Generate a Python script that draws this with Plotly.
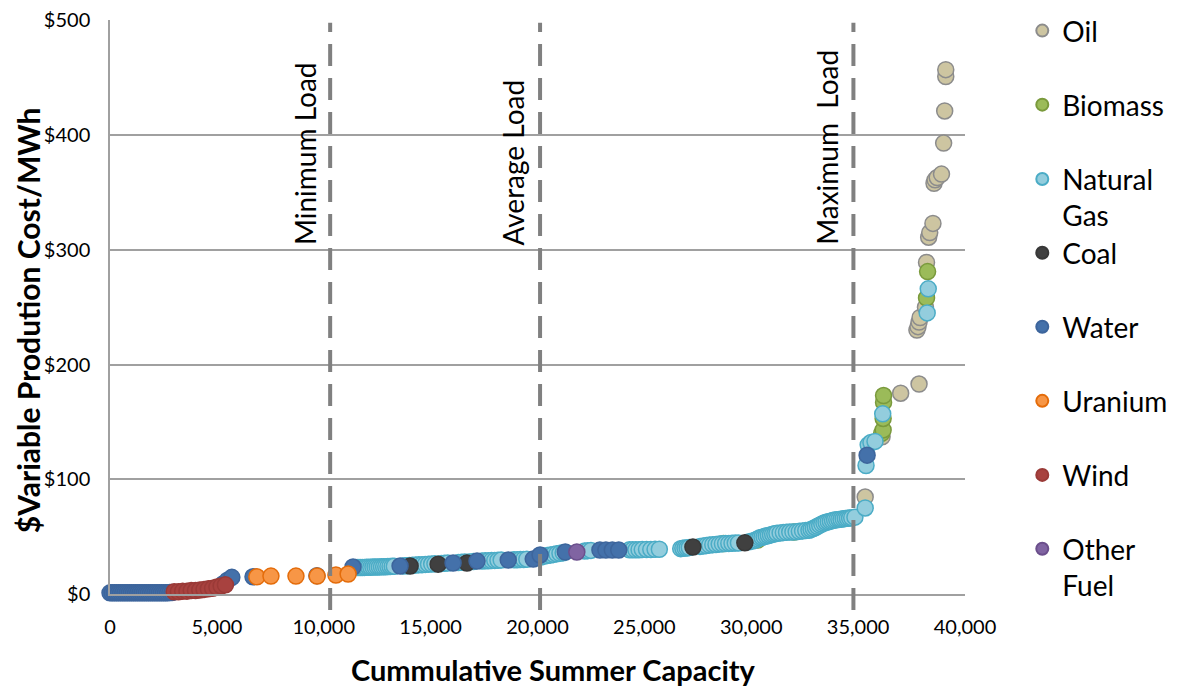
import plotly.graph_objects as go

# fuel data (MW cumulative, $/MWh)
oil_x = [35330, 36120, 36990, 37850, 37750, 37800, 37850, 37900, 38150, 38200, 38300, 38350,
         38500, 38550, 38600, 38700, 38900, 39000, 39050, 39100, 39100]
oil_y = [84.5, 137, 175, 183, 230, 233, 237, 241, 250, 289, 311, 315, 323, 358, 361, 363, 366,
         393, 421, 451, 457]

biomass_x = [28700, 30300, 32000, 36100, 36170, 36170, 36190, 36190, 38200, 38250]
biomass_y = [44, 47, 54, 140, 143, 153, 167, 173, 258, 281]

gas_x = [11500, 11600, 11700, 11800, 11900, 12000, 12100, 12200, 12300, 12400, 12500, 12600,
         12700, 12800, 12900, 13000, 13100, 13200, 13300, 13700, 13800, 13900, 14000, 14150,
         14300, 14450, 14600, 14750, 14900, 15050, 15200, 15500, 15650, 15800, 16300, 16450,
         16600, 16800, 17000, 17400, 17550, 17700, 17850, 18000, 18150, 18300, 18900, 19050,
         19200, 19350, 19500, 20000, 20150, 20300, 20450, 20600, 20750, 20900, 21050, 21200,
         22200, 22350, 22500, 24300, 24450, 24600, 24750, 24900, 25100, 25300, 25500, 25700,
         26700, 26800, 26900, 27000, 27100, 27600, 27750, 27900, 28050, 28200, 28350, 28500,
         28650, 28800, 28950, 29100, 29250, 29400, 29900, 30050, 30200, 30300, 30400, 30500,
         30600, 30700, 30800, 30900, 31000, 31100, 31200, 31350, 31500, 31650, 31800, 31950,
         32100, 32250, 32400, 32550, 32700, 32800, 32900, 33000, 33100, 33200, 33300, 33400,
         33500, 33600, 33700, 33800, 33900, 34000, 34100, 34200, 34300, 34400, 34500, 34600,
         34700, 34850, 35330, 35370, 35470, 35600, 35790, 36150, 38230, 38280]
gas_y = [23, 23, 23, 23.1, 23.2, 23.3, 23.4, 23.4, 23.5, 23.5, 23.6, 23.6,
         23.7, 23.7, 23.8, 23.9, 24, 24.1, 24.2, 24.5, 24.6, 24.7, 24.8, 25,
         25.2, 25.4, 25.6, 25.8, 26, 26.1, 26.3, 26.6, 26.8, 27, 27.5, 27.6,
         27.8, 28, 28.3, 28.8, 28.9, 29, 29.1, 29.3, 29.4, 29.6, 29.8, 29.9,
         30, 30.1, 30.3, 31.5, 32.2, 33, 33.5, 34, 34.5, 35, 35.5, 36,
         37.5, 37.8, 38, 38.5, 38.5, 38.5, 38.6, 38.7, 38.8, 38.8, 38.9, 39,
         39.5, 39.8, 40, 40.2, 40.5, 41.5, 41.8, 42.2, 42.6, 43, 43.2, 43.5,
         43.8, 44, 44.1, 44.2, 44.4, 44.5, 45.5, 46.2, 47, 48, 49, 49.5,
         50, 50.5, 51, 51.5, 52, 52.5, 53, 53.2, 53.5, 53.8, 54, 54.1,
         54.2, 54.6, 55, 55.3, 55.6, 56.3, 57, 58, 59, 60, 61, 61.8,
         62.5, 63, 63.5, 64, 64.5, 64.8, 65, 65.2, 65.5, 65.8, 66, 66.2,
         66.5, 67, 75, 112, 130, 132, 133, 157, 245, 266]

coal_x = [14040, 15350, 16700, 27270, 29700]
coal_y = [24.4, 26, 27, 41, 44.6]

water_x = [0, 100, 200, 300, 400, 500, 600, 700, 800, 900, 1000, 1100, 1200, 1300, 1400, 1500,
           1600, 1700, 1800, 1900, 2000, 2100, 2200, 2300, 2400, 2500, 2600, 2700, 2800, 2900,
           5300, 5500, 5700, 6690, 9680, 11370, 13570, 16050, 17170, 18630, 19800, 20120,
           21300, 22920, 23200, 23500, 23800, 35420]
water_y = [1, 1, 1, 1, 1, 1, 1, 1, 1, 1, 1, 1, 1, 1, 1, 1,
           1, 1, 1, 1, 1, 1, 1, 1, 1, 1, 1, 1, 1.2, 1.2,
           9, 12, 14.5, 15, 16, 23.5, 24.4, 27, 28.7, 29.6, 30.4, 34,
           36.6, 38.3, 38.3, 38.3, 38.3, 121]

uranium_x = [6870, 7530, 8700, 9690, 10570, 11140]
uranium_y = [15, 15.6, 15.6, 15.6, 16.5, 17.4]

wind_x = [3000, 3200, 3400, 3600, 3800, 4000, 4200, 4400, 4600, 4800, 5000, 5200, 5400]
wind_y = [2, 2, 2.5, 2.5, 3, 3, 3.5, 4, 4.5, 5, 6, 7, 8]

other_x = [21840]
other_y = [36.6]

load_x = [10300, 20120, 34780]
load_names = ["Minimum Load", "Average Load", "Maximum  Load"]
label_x = [9150, 18850, 33550]
label_y = [384, 376, 389]

y_ticks = [0, 100, 200, 300, 400, 500]
y_labels = ["$0", "$100", "$200", "$300", "$400", "$500"]
x_ticks = [0, 5000, 10000, 15000, 20000, 25000, 30000, 35000, 40000]

FONT = "Lato"
series = [
    ("Oil", oil_x, oil_y, "#CDC5A1", "#8C8C8C", 0.981, "middle"),
    ("Biomass", biomass_x, biomass_y, "#9BBB59", "#7A9A3C", 0.852, "middle"),
    ("Natural<br>Gas", gas_x, gas_y, "#93CDDD", "#4BACC6", 0.691, "top"),
    ("Coal", coal_x, coal_y, "#404040", "#383838", 0.594, "middle"),
    ("Water", water_x, water_y, "#4471AA", "#3D659C", 0.465, "middle"),
    ("Uranium", uranium_x, uranium_y, "#F79646", "#E46C0A", 0.336, "middle"),
    ("Wind", wind_x, wind_y, "#A8423F", "#9A3A37", 0.207, "middle"),
    ("Other<br>Fuel", other_x, other_y, "#8064A2", "#6B4F8C", 0.047, "top"),
]

fig = go.Figure()
layout_legends = {}
for i, (name, xs, ys, fill, edge, ly, va) in enumerate(series):
    key = "legend" if i == 0 else "legend%d" % (i + 1)
    fig.add_trace(go.Scatter(x=xs, y=ys, mode="markers", name=name, legend=key,
                             cliponaxis=False, showlegend=True,
                             marker=dict(size=16, color=fill, line=dict(color=edge, width=1.5))))
    layout_legends[key] = dict(x=1.067, y=ly, xanchor="left", yanchor="middle", valign=va,
                               bgcolor="rgba(0,0,0,0)", itemsizing="constant", visible=True,
                               font=dict(family=FONT, size=28, color="#000000"))

for lx in load_x:
    fig.add_shape(type="line", xref="x", yref="paper", x0=lx, x1=lx, y0=-0.028, y1=0.995,
                  line=dict(color="#808080", width=4, dash="22px,12px"))

for name, ax, ay in zip(load_names, label_x, label_y):
    fig.add_annotation(x=ax, y=ay, text=name, showarrow=False, textangle=-90,
                       font=dict(family=FONT, size=28, color="#000000"))

# axis titles sit slightly off-centre in the original, so place them as annotations
fig.add_annotation(xref="paper", yref="paper", x=0.519, y=-0.132, yanchor="middle",
                   text="<b>Cummulative Summer Capacity</b>", showarrow=False,
                   font=dict(family=FONT, size=29, color="#000000"))
fig.add_annotation(xref="paper", yref="paper", x=-0.0959, y=0.477, xanchor="center",
                   text="<b>$Variable Prodution Cost/MWh</b>", showarrow=False, textangle=-90,
                   borderpad=0, font=dict(family=FONT, size=30, color="#000000"))

# page body adds an 8px offset, so the figure is 8px smaller than the window
fig.update_layout(
    width=1171, height=680, showlegend=True,
    margin=dict(l=102, r=214, t=12, b=94, autoexpand=False),
    paper_bgcolor="white", plot_bgcolor="white",
    font=dict(family=FONT, color="#000000"),
    **layout_legends,
)
fig.update_xaxes(range=[0, 40000], tickvals=x_ticks, tickformat=",", showgrid=False,
                 zeroline=False, showline=True, linecolor="#A0A0A0", automargin=False,
                 linewidth=1.5, ticks="", ticklabelstandoff=14, ticklabeloverflow="allow",
                 tickfont=dict(family=FONT, size=20, color="#000000"))
fig.update_yaxes(range=[0, 500.3], tickvals=y_ticks, ticktext=y_labels, automargin=False,
                 showgrid=True, gridcolor="#A0A0A0", gridwidth=1.5, zeroline=False,
                 showline=True, linecolor="#A0A0A0", linewidth=1.5, ticks="", ticklabelstandoff=14,
                 ticklabeloverflow="allow",
                 tickfont=dict(family=FONT, size=20, color="#000000"))

fig.write_html("out.html")
